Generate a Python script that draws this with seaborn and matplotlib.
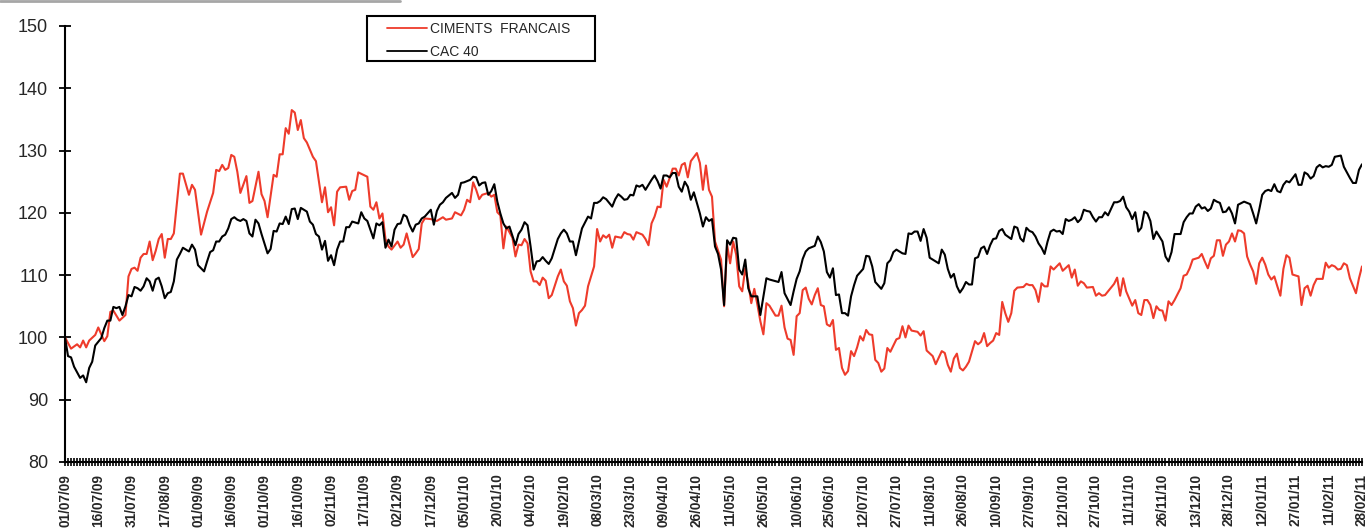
import matplotlib
matplotlib.use("Agg")
import matplotlib.pyplot as plt
from matplotlib.lines import Line2D
from matplotlib.patches import Rectangle
import seaborn as sns

# x axis: one tick per trading session, a date label every 11 sessions
tick_labels = ["01/07/09", "16/07/09", "31/07/09", "17/08/09", "01/09/09", "16/09/09",
               "01/10/09", "16/10/09", "02/11/09", "17/11/09", "02/12/09", "17/12/09",
               "05/01/10", "20/01/10", "04/02/10", "19/02/10", "08/03/10", "23/03/10",
               "09/04/10", "26/04/10", "11/05/10", "26/05/10", "10/06/10", "25/06/10",
               "12/07/10", "27/07/10", "11/08/10", "26/08/10", "10/09/10", "27/09/10",
               "12/10/10", "27/10/10", "11/11/10", "26/11/10", "13/12/10", "28/12/10",
               "12/01/11", "27/01/11", "11/02/11", "28/02/11"]
n_sessions = 430
label_step = 11

# CIMENTS FRANCAIS (base 100), session number -> value
cf_day = [0, 2, 4, 5, 6, 7, 8, 10, 11, 13,
          14, 15, 16, 18, 20, 21, 22, 23, 24, 25,
          26, 27, 28, 29, 30, 31, 32, 33, 34, 35,
          36, 38, 39, 41, 42, 43, 45, 47, 49, 50,
          51, 52, 53, 54, 55, 56, 57, 58, 60, 61,
          62, 64, 65, 66, 67, 69, 70, 71, 72, 73,
          74, 75, 76, 77, 78, 79, 80, 82, 83, 85,
          86, 87, 88, 89, 90, 91, 93, 94, 95, 96,
          97, 100, 101, 102, 103, 104, 105, 106, 107, 108,
          110, 111, 112, 113, 115, 116, 117, 118, 119, 121,
          123, 125, 126, 128, 129, 131, 132, 133, 134, 135,
          136, 137, 138, 140, 141, 142, 143, 144, 145, 146,
          147, 148, 149, 150, 151, 152, 153, 154, 155, 156,
          157, 158, 159, 160, 161, 163, 164, 165, 166, 167,
          168, 169, 170, 171, 172, 173, 175, 176, 177, 178,
          179, 180, 181, 182, 184, 185, 186, 187, 188, 189,
          191, 192, 193, 194, 195, 196, 197, 198, 199, 200,
          201, 202, 203, 204, 205, 206, 207, 209, 210, 211,
          212, 213, 214, 215, 217, 218, 219, 220, 221, 222,
          223, 224, 225, 226, 227, 228, 229, 230, 231, 232,
          233, 235, 236, 237, 238, 239, 240, 241, 242, 243,
          244, 245, 246, 247, 248, 249, 250, 251, 252, 253,
          254, 255, 256, 257, 258, 259, 260, 261, 262, 263,
          264, 265, 266, 267, 268, 269, 270, 271, 272, 273,
          275, 276, 277, 278, 279, 280, 282, 283, 284, 285,
          287, 288, 290, 291, 292, 293, 294, 295, 296, 297,
          298, 299, 301, 302, 303, 304, 305, 306, 307, 308,
          309, 310, 311, 312, 313, 314, 315, 317, 318, 319,
          320, 321, 322, 323, 324, 325, 326, 327, 328, 329,
          330, 332, 333, 334, 335, 336, 337, 338, 340, 341,
          342, 343, 344, 345, 347, 348, 349, 350, 351, 353,
          354, 355, 356, 357, 358, 359, 360, 361, 362, 363,
          364, 365, 366, 367, 369, 370, 371, 372, 373, 375,
          376, 377, 378, 379, 380, 381, 382, 383, 384, 385,
          386, 387, 388, 389, 390, 391, 392, 393, 394, 395,
          396, 397, 398, 399, 400, 401, 402, 403, 404, 405,
          406, 408, 409, 410, 411, 412, 413, 414, 416, 417,
          418, 419, 420, 421, 422, 423, 424, 425, 427, 428,
          429]
cf_val = [100.0, 98.2, 98.9, 98.4, 99.5, 98.4, 99.5, 100.4, 101.6, 99.4,
          100.2, 104.1, 104.3, 102.7, 103.6, 109.8, 111.0, 111.2, 110.7, 112.8,
          113.4, 113.4, 115.4, 112.4, 113.9, 115.8, 116.6, 112.8, 115.8, 115.8,
          116.7, 126.3, 126.3, 122.9, 124.5, 123.7, 116.5, 120.2, 123.2, 126.9,
          126.7, 127.7, 126.9, 127.2, 129.3, 129.0, 126.6, 123.2, 125.9, 121.6,
          121.9, 126.6, 123.0, 121.9, 119.3, 126.1, 125.8, 129.4, 129.4, 133.6,
          132.7, 136.5, 136.1, 133.3, 134.9, 132.0, 131.3, 129.0, 128.3, 121.7,
          124.1, 120.1, 120.9, 118.0, 123.4, 124.1, 124.2, 122.1, 123.5, 123.7,
          126.5, 125.8, 121.0, 120.5, 121.7, 119.1, 119.9, 115.8, 114.6, 114.1,
          115.4, 114.4, 114.9, 116.7, 112.9, 113.5, 114.2, 118.3, 119.1, 119.0,
          118.7, 119.3, 118.9, 119.1, 120.1, 119.6, 120.5, 122.1, 121.7, 124.9,
          123.7, 122.2, 122.9, 123.2, 122.6, 122.9, 120.1, 119.6, 114.3, 117.8,
          116.9, 116.0, 113.0, 114.9, 114.8, 115.8, 115.1, 110.6, 109.0, 109.0,
          108.4, 109.6, 109.1, 106.3, 106.8, 109.8, 110.9, 109.0, 108.3, 105.8,
          104.7, 101.9, 103.9, 104.4, 105.1, 108.2, 111.4, 117.4, 115.4, 116.4,
          116.0, 116.5, 114.4, 116.2, 116.0, 116.9, 116.6, 116.5, 115.7, 116.9,
          116.5, 115.8, 114.8, 118.3, 119.4, 121.0, 120.9, 125.3, 124.2, 125.6,
          127.1, 127.1, 126.0, 127.7, 128.0, 125.7, 128.3, 129.6, 128.0, 123.7,
          127.6, 123.7, 122.6, 115.4, 112.5, 105.0, 114.9, 111.9, 115.4, 113.3,
          108.2, 107.4, 111.1, 108.7, 105.5, 107.8, 105.3, 102.6, 100.5, 105.5,
          105.1, 103.5, 103.5, 105.1, 101.6, 99.8, 99.6, 97.2, 103.4, 103.9,
          107.6, 108.0, 106.2, 105.3, 106.8, 107.9, 105.2, 105.0, 102.1, 101.8,
          102.8, 98.0, 98.3, 95.1, 94.0, 94.6, 97.8, 97.0, 98.4, 100.2,
          99.5, 101.2, 100.5, 100.4, 96.4, 95.9, 94.5, 95.0, 98.3, 97.7,
          99.7, 99.9, 101.8, 100.0, 101.9, 101.1, 100.9, 100.3, 101.0, 97.9,
          97.0, 95.7, 97.8, 97.5, 95.6, 94.5, 96.6, 97.4, 95.1, 94.7,
          95.3, 96.1, 99.4, 98.9, 99.3, 100.7, 98.6, 99.1, 99.5, 100.7,
          100.4, 105.7, 103.9, 102.5, 103.9, 107.5, 108.0, 108.1, 108.6, 108.4,
          108.4, 107.6, 105.7, 108.7, 108.2, 108.2, 111.4, 110.9, 111.4, 111.9,
          110.7, 111.6, 109.6, 110.9, 108.3, 109.0, 108.7, 108.0, 108.1, 106.7,
          107.1, 106.7, 106.8, 107.4, 108.6, 109.6, 106.7, 109.5, 107.4, 105.1,
          106.0, 103.9, 103.6, 106.0, 106.0, 105.2, 103.1, 105.0, 104.4, 104.3,
          102.7, 105.8, 105.2, 106.0, 107.9, 109.9, 110.1, 111.1, 112.5, 112.8,
          113.4, 112.2, 111.1, 112.7, 113.1, 115.6, 115.6, 113.1, 114.9, 115.4,
          116.7, 115.4, 117.2, 117.1, 116.7, 113.0, 111.7, 110.6, 108.6, 111.9,
          112.8, 111.7, 110.1, 109.3, 109.8, 108.2, 106.7, 111.0, 113.2, 112.8,
          110.1, 109.8, 105.2, 107.9, 108.3, 106.7, 108.4, 109.4, 109.4, 112.0,
          111.2, 111.6, 111.4, 110.9, 111.0, 111.9, 111.6, 109.5, 107.1, 109.5,
          111.4]

# CAC 40 (base 100)
cac_day = [0, 1, 2, 3, 5, 6, 7, 8, 9, 10,
           12, 13, 14, 15, 16, 17, 18, 19, 20, 21,
           22, 23, 24, 25, 26, 27, 28, 29, 30, 31,
           32, 33, 34, 35, 36, 37, 38, 39, 40, 41,
           42, 43, 44, 45, 46, 47, 48, 49, 50, 51,
           52, 53, 54, 55, 56, 57, 58, 59, 60, 61,
           62, 63, 64, 65, 67, 68, 69, 70, 71, 72,
           73, 74, 75, 76, 77, 78, 80, 81, 82, 83,
           84, 85, 86, 87, 88, 89, 90, 91, 92, 93,
           94, 95, 97, 98, 99, 100, 102, 103, 104, 105,
           106, 107, 108, 109, 110, 111, 112, 113, 114, 115,
           116, 117, 118, 119, 121, 122, 123, 124, 125, 126,
           128, 129, 130, 131, 132, 134, 135, 136, 137, 138,
           139, 140, 141, 142, 143, 144, 145, 146, 147, 149,
           150, 151, 152, 153, 154, 155, 156, 157, 158, 159,
           160, 161, 163, 164, 165, 166, 167, 168, 169, 170,
           171, 173, 174, 175, 176, 177, 178, 179, 181, 182,
           183, 184, 185, 186, 187, 188, 189, 190, 191, 192,
           194, 195, 196, 197, 198, 199, 200, 201, 202, 203,
           204, 205, 206, 207, 208, 210, 211, 212, 213, 214,
           215, 216, 217, 218, 219, 220, 221, 222, 223, 224,
           225, 226, 227, 229, 230, 232, 233, 236, 237, 238,
           240, 241, 242, 243, 244, 245, 246, 248, 249, 250,
           251, 252, 253, 254, 255, 256, 257, 258, 259, 260,
           261, 262, 264, 265, 266, 267, 268, 270, 271, 272,
           273, 274, 275, 277, 278, 279, 280, 281, 282, 283,
           284, 285, 286, 287, 289, 290, 291, 292, 293, 294,
           295, 296, 297, 298, 299, 300, 301, 302, 303, 304,
           305, 306, 307, 308, 309, 310, 311, 313, 314, 315,
           316, 317, 318, 319, 320, 321, 322, 323, 324, 325,
           326, 327, 328, 329, 330, 331, 332, 333, 334, 335,
           336, 337, 338, 339, 340, 341, 342, 343, 344, 345,
           347, 348, 349, 350, 351, 352, 353, 354, 355, 356,
           357, 358, 359, 360, 361, 363, 364, 365, 366, 367,
           369, 370, 371, 372, 373, 374, 375, 376, 377, 378,
           379, 380, 381, 382, 383, 384, 385, 386, 387, 388,
           390, 391, 392, 393, 394, 395, 396, 397, 398, 399,
           400, 401, 402, 403, 404, 405, 407, 408, 409, 410,
           411, 412, 413, 414, 415, 416, 417, 418, 419, 420,
           422, 423, 425, 426, 427, 428, 429]
cac_val = [100.0, 97.0, 96.8, 95.3, 93.5, 93.9, 92.8, 95.1, 96.1, 98.7,
           99.9, 101.5, 102.7, 102.7, 104.9, 104.7, 104.9, 103.6, 105.0, 106.8,
           106.6, 108.1, 107.9, 107.5, 108.2, 109.5, 109.0, 107.5, 109.3, 109.6,
           108.2, 106.3, 107.1, 107.3, 109.0, 112.5, 113.4, 114.4, 114.1, 113.8,
           114.9, 114.1, 111.6, 111.1, 110.6, 112.2, 113.7, 114.0, 115.4, 115.4,
           116.2, 116.5, 117.5, 119.0, 119.3, 118.9, 118.7, 119.0, 118.7, 116.7,
           116.2, 118.9, 118.3, 116.6, 113.5, 114.2, 117.1, 117.0, 118.3, 118.2,
           119.4, 118.2, 120.6, 120.7, 119.0, 120.8, 120.2, 118.6, 118.1, 116.6,
           116.2, 114.1, 115.5, 112.3, 113.2, 111.6, 114.1, 115.4, 115.4, 117.7,
           117.7, 118.6, 118.3, 120.1, 119.1, 118.7, 115.9, 118.3, 118.0, 118.5,
           114.4, 115.7, 114.6, 117.3, 118.2, 118.3, 119.7, 119.4, 118.0, 117.0,
           118.1, 118.3, 119.1, 119.4, 120.5, 118.1, 120.3, 121.3, 121.7, 122.4,
           123.2, 122.4, 122.9, 124.8, 124.9, 125.3, 125.8, 125.7, 124.4, 124.8,
           124.9, 122.9, 123.5, 124.6, 121.8, 119.9, 118.3, 117.5, 117.8, 114.8,
           116.6, 117.3, 118.5, 118.0, 114.6, 110.9, 112.2, 112.3, 112.9, 112.3,
           111.8, 112.7, 115.8, 116.7, 117.3, 116.7, 115.4, 115.4, 113.2, 115.4,
           117.5, 119.4, 119.1, 121.6, 121.6, 121.9, 122.5, 122.2, 121.0, 122.2,
           123.0, 122.6, 122.1, 122.2, 122.9, 122.8, 124.4, 124.2, 124.5, 123.7,
           125.3, 126.0, 125.1, 123.9, 126.0, 126.0, 125.7, 126.4, 126.4, 124.2,
           123.4, 125.0, 124.2, 122.1, 123.3, 119.9, 117.8, 119.3, 118.7, 119.0,
           114.6, 113.4, 110.9, 105.2, 115.6, 114.9, 116.0, 115.9, 110.9, 110.1,
           112.5, 107.9, 106.6, 106.6, 103.6, 109.5, 109.3, 108.9, 110.5, 107.1,
           105.2, 107.4, 109.4, 110.6, 112.6, 113.8, 114.3, 114.7, 116.2, 115.3,
           113.8, 110.5, 109.6, 111.1, 106.8, 106.9, 103.9, 103.9, 103.5, 106.6,
           108.4, 109.9, 111.0, 113.1, 113.0, 111.4, 108.9, 107.8, 108.7, 111.9,
           112.4, 113.7, 114.1, 113.5, 113.4, 116.7, 116.6, 117.0, 117.0, 115.5,
           117.4, 116.0, 112.8, 112.5, 111.9, 114.1, 113.3, 111.0, 109.6, 110.2,
           108.2, 107.2, 107.9, 108.9, 108.5, 108.5, 112.7, 112.9, 114.3, 114.6,
           113.4, 114.8, 115.8, 115.9, 117.1, 117.4, 116.5, 115.8, 117.8, 117.6,
           115.9, 115.4, 117.6, 117.1, 116.9, 116.2, 115.1, 114.4, 113.4, 115.4,
           117.0, 117.3, 117.0, 117.1, 116.6, 119.0, 118.7, 118.9, 119.3, 118.5,
           119.0, 120.5, 120.3, 120.2, 119.3, 118.6, 119.3, 119.3, 120.1, 119.6,
           121.7, 121.7, 121.9, 122.6, 120.9, 120.2, 119.0, 120.1, 117.0, 117.6,
           120.2, 119.9, 118.7, 115.8, 117.0, 115.4, 113.0, 112.2, 113.7, 116.6,
           116.6, 118.5, 119.3, 119.9, 119.9, 121.0, 121.4, 120.7, 120.9, 120.3,
           120.7, 122.1, 121.8, 121.6, 120.1, 120.2, 120.9, 119.9, 118.3, 121.3,
           121.8, 121.6, 121.4, 119.9, 118.3, 120.5, 122.9, 123.5, 123.7, 123.5,
           124.6, 123.5, 123.3, 124.5, 125.1, 124.9, 126.2, 124.5, 124.5, 126.5,
           126.2, 125.5, 125.9, 127.3, 127.7, 127.3, 127.5, 127.4, 127.7, 129.0,
           129.2, 127.4, 125.6, 124.8, 124.8, 126.9, 127.8]

sns.set_style("white")
plt.rcParams['font.family'] = ['Liberation Sans', 'DejaVu Sans']

W, H = 1368, 531
fig = plt.figure(figsize=(W / 100, H / 100), dpi=100)
ax = fig.add_axes([65 / W, 69 / H, 1297 / W, 436 / H])

sns.lineplot(x=cf_day, y=cf_val, ax=ax, color='#EE3B2B', linewidth=1.5,
             label='CIMENTS  FRANCAIS')
sns.lineplot(x=cac_day, y=cac_val, ax=ax, color='black', linewidth=1.5,
             label='CAC 40')

ax.set_xlim(0, n_sessions - 1)
ax.set_ylim(80, 150)
ax.set_yticks(range(80, 151, 10))
ax.set_xticks(range(0, n_sessions, label_step))
ax.set_xticks(range(n_sessions), minor=True)
ax.set_xticklabels(tick_labels, rotation=90, fontsize=9.8, fontweight='bold',
                   va='top', ha='center')
# seaborn's white style switches tick marks off, turn them back on
ax.tick_params(axis='x', which='both', bottom=True, direction='inout',
               length=5.8, width=1.2, color='black', pad=5.5)
ax.tick_params(axis='y', left=True, direction='inout', length=8.6, width=1.3,
               color='black', pad=8, labelsize=13)
ax.set_xlabel('')
ax.set_ylabel('')

for s in ['top', 'right']:
    ax.spines[s].set_visible(False)
for s in ['left', 'bottom']:
    ax.spines[s].set_color('black')
    ax.spines[s].set_linewidth(1.5)

# legend: plain text entries inside a square black box
leg = ax.legend(loc='upper left', bbox_to_anchor=(387 / W, 1 - 22 / H),
                bbox_transform=fig.transFigure, frameon=False, fontsize=10,
                borderaxespad=0, borderpad=0, handlelength=2.9,
                handletextpad=0.2, labelspacing=0.65)
for line in leg.get_lines():
    line.set_linewidth(1.3)
fig.add_artist(Rectangle((367 / W, 1 - 61 / H), 228 / W, 45 / H,
                         transform=fig.transFigure, fill=False,
                         edgecolor='black', linewidth=1.5))

# thin grey rule at the very top of the picture
fig.add_artist(Line2D([0, 400 / W], [1 - 1 / H, 1 - 1 / H], color='#A6A6A6',
                      linewidth=2))

fig.savefig('out.png', dpi=100)
